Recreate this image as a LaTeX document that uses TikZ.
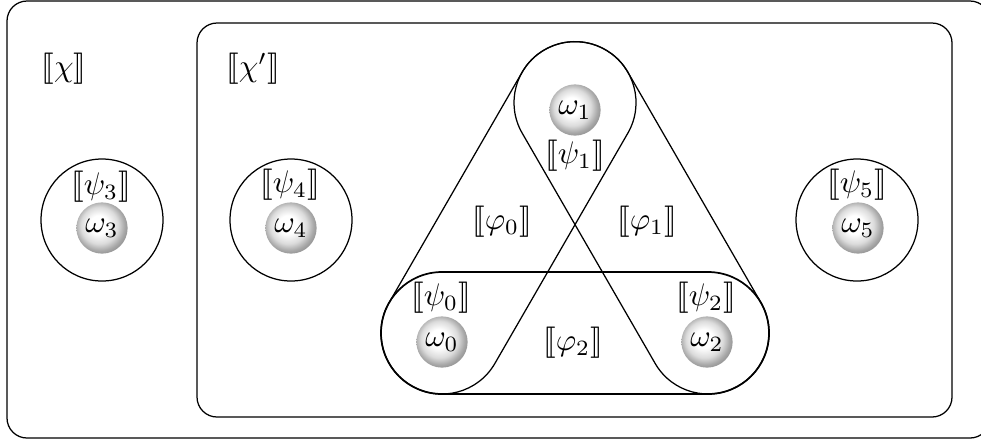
\documentclass[tikz,border=0pt]{standalone}
\usepackage{stmaryrd}
\usetikzlibrary{calc}
\pgfdeclareradialshading{lightball}{\pgfpoint{-4bp}{4bp}}{color(0bp)=(white); color(9bp)=(white); color(18bp)=(black!14); color(24bp)=(black!34); color(30bp)=(black!48); color(50bp)=(black!48)}
\begin{document}
\begin{tikzpicture}[x=0.32pt,y=-0.32pt,
  ball/.style={circle,shading=lightball,minimum size=16.4pt,inner sep=0pt},
  region/.style={draw,line width=0.4pt},
  lbl/.style={inner sep=0pt}]
\useasboundingbox (0,0) rectangle (981,440);
% frames
\draw[region,rounded corners=6.4pt] (7,1) rectangle (990,438);
\draw[region,rounded corners=6.4pt] (197,23) rectangle (952,417);
\node[lbl] (chi) at (64,69) {$\llbracket\chi\rrbracket$};
\node[lbl] (chip) at (253,69) {$\llbracket\chi'\rrbracket$};
% single circles
\draw[region] (102,220) circle[radius=61];
\draw[region] (291,220) circle[radius=61];
\draw[region] (857,220) circle[radius=61];
\node[ball] (w3) at (102,228) {$\omega_3$};
\node[ball] (w4) at (291,228) {$\omega_4$};
\node[ball] (w5) at (858,228) {$\omega_5$};
\node[lbl] (p3) at (101,187) {$\llbracket\psi_3\rrbracket$};
\node[lbl] (p4) at (290,185) {$\llbracket\psi_4\rrbracket$};
\node[lbl] (p5) at (857,185) {$\llbracket\psi_5\rrbracket$};
% capsules
\begin{scope}[shift={(442,333)}]
  \draw[line width=0.55pt] (0,-61) -- (266,-61) arc[start angle=-90,end angle=90,radius=61] -- (0,61) arc[start angle=90,end angle=270,radius=61] -- cycle;
\end{scope}
\begin{scope}[shift={(442,333)},rotate=60]
  \draw[region] (0,-61) -- (266,-61) arc[start angle=-90,end angle=90,radius=61] -- (0,61) arc[start angle=90,end angle=270,radius=61] -- cycle;
\end{scope}
\begin{scope}[shift={(575,102.6)},rotate=-60]
  \draw[region] (0,-61) -- (266,-61) arc[start angle=-90,end angle=90,radius=61] -- (0,61) arc[start angle=90,end angle=270,radius=61] -- cycle;
\end{scope}
\node[ball] (w0) at (442,342) {$\omega_0$};
\node[ball] (w1) at (575,110) {$\omega_1$};
\node[ball] (w2) at (707,342) {$\omega_2$};
\node[lbl] (p0) at (441,298) {$\llbracket\psi_0\rrbracket$};
\node[lbl] (p1) at (575,156) {$\llbracket\psi_1\rrbracket$};
\node[lbl] (p2) at (706,298) {$\llbracket\psi_2\rrbracket$};
\node[lbl] (f0) at (502,222) {$\llbracket\varphi_0\rrbracket$};
\node[lbl] (f1) at (647,222) {$\llbracket\varphi_1\rrbracket$};
\node[lbl] (f2) at (573,343) {$\llbracket\varphi_2\rrbracket$};
\end{tikzpicture}
\end{document}
